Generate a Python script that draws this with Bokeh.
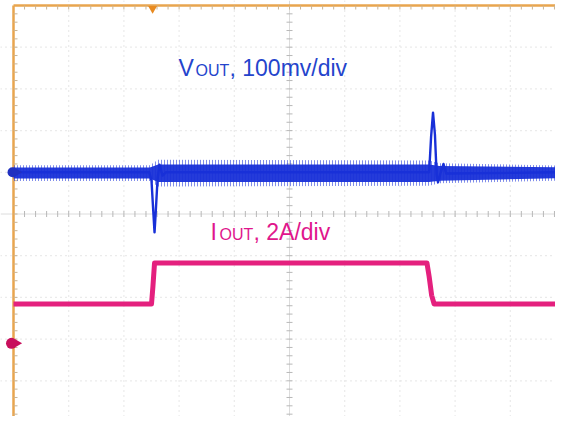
import numpy as np
from bokeh.plotting import figure
from bokeh.models import Range1d
from bokeh.core.properties import value
from bokeh.embed import file_html
from bokeh.resources import INLINE

# ---- data (scope screen, in divisions: time 0..10 div, amplitude in div about centre) ----
# VOUT trace, 100 mV/div (blue)
vout_t = [0.0, 2.46, 2.50, 2.535, 2.555, 2.575, 2.61, 2.645, 2.70, 2.76,
          7.53, 7.565, 7.60, 7.635, 7.665, 7.69, 7.74, 7.79, 7.84, 9.85]
vout_v = [1.0, 1.0, 0.80, 0.0, -0.44, 0.0, 0.85, 1.18, 0.92, 1.0,
          1.0, 1.85, 2.43, 1.9, 0.95, 0.76, 1.0, 1.2, 0.97, 1.0]
# ripple envelope of VOUT
vout_env_t = [0.0, 2.47, 2.62, 7.53, 7.72, 9.85]
vout_env_hi = [1.115, 1.115, 1.19, 1.19, 1.15, 1.12]
vout_env_lo = [0.85, 0.85, 0.77, 0.77, 0.80, 0.86]
vout_pk_hi = [1.17, 1.17, 1.30, 1.28, 1.22, 1.16]
vout_pk_lo = [0.79, 0.79, 0.66, 0.68, 0.74, 0.80]
# IOUT trace, 2 A/div (magenta)
iout_t = [0.0, 2.50, 2.525, 2.555, 7.49, 7.53, 7.575, 7.62, 9.85]
iout_i = [-2.158, -2.158, -1.75, -1.175, -1.175, -1.5, -1.95, -2.158, -2.158]
# channel ground markers and trigger position
vout_marker = 1.0
iout_marker = -3.1
trigger_t = 2.52

vout_label = ["V", "OUT", ", 100mv/div"]
iout_label = ["I", "OUT", ", 2A/div"]

# ---- geometry of the screen in page pixels ----
X0, SX = 13.0, 55.2
Y0, SY = 213.5, 41.7
W, H, OFF = 555, 416, 0


def dx(px):
    return (px - X0) / SX


def dy(py):
    return (Y0 - py) / SY


BLUE = "#1830d8"
BLUE_TXT = "#2444cc"
MAG = "#e4207e"
MAG_TXT = "#e0168c"
ORANGE = "#e8a54e"

p = figure(width=W, height=H, x_range=Range1d(dx(OFF), dx(OFF + W)),
           y_range=Range1d(dy(OFF + H), dy(OFF)), output_backend="svg",
           toolbar_location=None, min_border=0)
p.axis.visible = False
p.grid.visible = False
p.outline_line_color = None
p.background_fill_color = "white"
p.border_fill_color = "white"

ymin, ymax = dy(OFF + H), dy(OFF)
xmin, xmax = dx(OFF), dx(OFF + W)

# dotted graticule
gx = [i for i in range(1, 10) if i != 5]
p.segment(x0=gx, y0=[ymin] * len(gx), x1=gx, y1=[ymax] * len(gx),
          line_color="#d6d6d6", line_width=1.2, line_dash="1 4")
gy = [j for j in range(-4, 5) if j != 0]
p.segment(x0=[xmin] * len(gy), y0=gy, x1=[xmax] * len(gy), y1=gy,
          line_color="#d6d6d6", line_width=1.2, line_dash="1 4")

# centre cross with minor ticks
p.segment(x0=[5, xmin], y0=[ymin, 0], x1=[5, xmax], y1=[ymax, 0],
          line_color="#dcdcdc", line_width=1)
tx = np.arange(0.2, 10.0, 0.2)
p.segment(x0=tx, y0=np.full(len(tx), -3 / SY), x1=tx, y1=np.full(len(tx), 3 / SY),
          line_color="#b8b8b8", line_width=1)
ty = np.arange(-4.8, 5.0, 0.2)
p.segment(x0=np.full(len(ty), 5 - 3 / SX), y0=ty, x1=np.full(len(ty), 5 + 3 / SX), y1=ty,
          line_color="#b8b8b8", line_width=1)

# left and top borders with ticks
TOP = dy(5)
p.segment(x0=[0], y0=[ymin], x1=[0], y1=[TOP], line_color=ORANGE, line_width=2.5)
p.segment(x0=[0], y0=[TOP], x1=[xmax], y1=[TOP], line_color=ORANGE, line_width=2.5)
p.segment(x0=np.zeros(len(ty)), y0=ty, x1=np.full(len(ty), 4 / SX), y1=ty,
          line_color="#c9b494", line_width=1)
p.segment(x0=tx, y0=np.full(len(tx), TOP), x1=tx, y1=np.full(len(tx), dy(9)),
          line_color="#c9b494", line_width=1)

# traces
p.varea(x=vout_env_t, y1=vout_pk_lo, y2=vout_pk_hi, fill_color=BLUE, fill_alpha=0.0,
        hatch_pattern="vertical_line", hatch_color=BLUE, hatch_weight=1.0, hatch_scale=3,
        hatch_alpha=0.55)
p.varea(x=vout_env_t, y1=vout_env_lo, y2=vout_env_hi, fill_color=BLUE, fill_alpha=0.95)
p.line(vout_t, vout_v, line_color=BLUE, line_width=2.4, line_join="round")
p.line(iout_t, iout_i, line_color=MAG, line_width=5, line_join="round")

# markers
p.scatter([dx(12)], [vout_marker], marker="circle", size=10, fill_color="#2030c0",
          line_color=None)
p.scatter([dx(17)], [vout_marker], marker="triangle", angle=-np.pi / 2, size=8,
          fill_color="#2030c0", line_color=None)
p.scatter([dx(11)], [iout_marker], marker="circle", size=11, fill_color="#c8105c",
          line_color=None)
p.scatter([dx(17)], [iout_marker], marker="triangle", angle=-np.pi / 2, size=8,
          fill_color="#c8105c", line_color=None)
p.scatter([trigger_t], [dy(8)], marker="inverted_triangle", size=9,
          fill_color="#e88a20", line_color=None)

# labels
FONT = value("Liberation Sans")
p.text(x=[dx(178)], y=[dy(67)], text=[vout_label[0]], text_font=FONT,
       text_font_size=value("23px"), text_color=BLUE_TXT, text_baseline="alphabetic")
p.text(x=[dx(195)], y=[dy(70)], text=[vout_label[1]], text_font=FONT,
       text_font_size=value("16px"), text_color=BLUE_TXT, text_baseline="alphabetic")
p.text(x=[dx(229)], y=[dy(67)], text=[vout_label[2]], text_font=FONT,
       text_font_size=value("23px"), text_color=BLUE_TXT, text_baseline="alphabetic")
p.text(x=[dx(210)], y=[dy(231)], text=[iout_label[0]], text_font=FONT,
       text_font_size=value("23px"), text_color=MAG_TXT, text_baseline="alphabetic")
p.text(x=[dx(219)], y=[dy(234)], text=[iout_label[1]], text_font=FONT,
       text_font_size=value("16px"), text_color=MAG_TXT, text_baseline="alphabetic")
p.text(x=[dx(253)], y=[dy(231)], text=[iout_label[2]], text_font=FONT,
       text_font_size=value("23px"), text_color=MAG_TXT, text_baseline="alphabetic")

open("out.html", "w").write(file_html(p, INLINE))
